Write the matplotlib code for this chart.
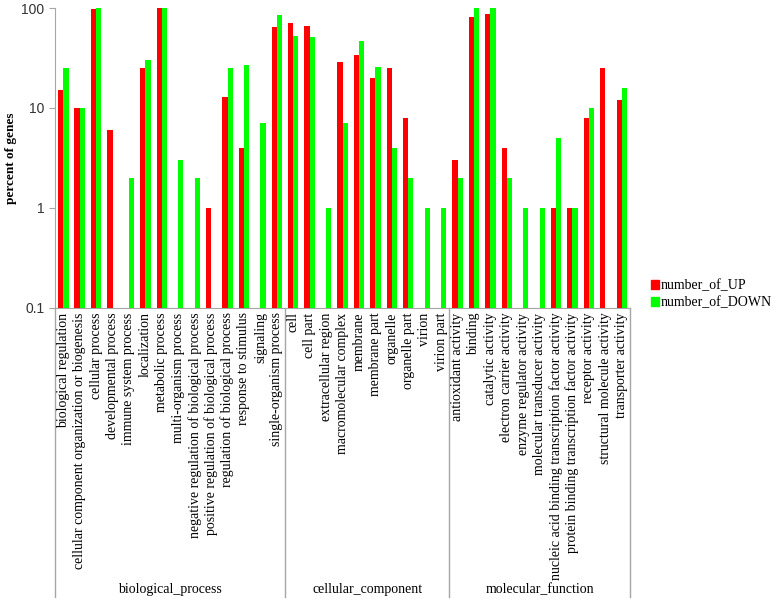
import numpy as np
import matplotlib
matplotlib.use("Agg")
import matplotlib.pyplot as plt
from matplotlib.patches import Patch
from matplotlib.transforms import blended_transform_factory

# GO terms, grouped by ontology
bp_terms = ["biological regulation", "cellular component organization or biogenesis",
            "cellular process", "developmental process", "immune system process",
            "localization", "metabolic process", "multi-organism process",
            "negative regulation of biological process", "positive regulation of biological process",
            "regulation of biological process", "response to stimulus", "signaling",
            "single-organism process"]
cc_terms = ["cell", "cell part", "extracellular region", "macromolecular complex", "membrane",
            "membrane part", "organelle", "organelle part", "virion", "virion part"]
mf_terms = ["antioxidant activity", "binding", "catalytic activity", "electron carrier activity",
            "enzyme regulator activity", "molecular transducer activity",
            "nucleic acid binding transcription factor activity",
            "protein binding transcription factor activity", "receptor activity",
            "structural molecule activity", "transporter activity"]
groups = ["biological_process", "cellular_component", "molecular_function"]

# percent of genes (nan = no bar)
nan = np.nan
up_pct = [15, 10, 97, 6, nan, 25, 100, nan, nan, 1, 13, 4, nan, 64,
          70, 66, nan, 29, 34, 20, 25, 8, nan, nan,
          3, 81, 87, 4, nan, nan, 1, 1, 8, 25, 12]
down_pct = [25, 10, 100, nan, 2, 30, 100, 3, 2, nan, 25, 27, 7, 86,
            52, 51, 1, 7, 47, 26, 4, 2, 1, 1,
            2, 100, 100, 2, 1, 1, 5, 1, 10, nan, 16]

RED = "#ff0000"
GREEN = "#00ff00"
LINE = "#a6a6a6"
SERIF = ["Liberation Serif", "DejaVu Serif"]

terms = bp_terms + cc_terms + mf_terms
sizes = [len(bp_terms), len(cc_terms), len(mf_terms)]
x = np.arange(len(terms))
w = 0.32

fig = plt.figure(figsize=(7.73, 6.02), dpi=100)
ax = fig.add_axes([0.0712, 0.4884, 0.7438, 0.4983])

ax.bar(x - w / 2, up_pct, width=w, color=RED, zorder=3)
ax.bar(x + w / 2, down_pct, width=w, color=GREEN, zorder=3)

ax.set_yscale("log")
ax.set_ylim(0.1, 100)
ax.set_xlim(-0.5, len(terms) - 0.5)
ax.set_yticks([0.1, 1, 10, 100])
ax.set_yticklabels(["0.1", "1", "10", "100"], fontsize=10,
                   family=["Liberation Sans", "DejaVu Sans"], color="#333333")
ax.minorticks_off()
ax.tick_params(axis="y", direction="out", length=4, color=LINE)
ax.set_xticks([])

for s in ["top", "right"]:
    ax.spines[s].set_visible(False)
ax.spines["left"].set_color(LINE)
ax.spines["bottom"].set_color(LINE)

ax.set_ylabel("percent of genes", fontsize=9.5, fontweight="bold", family=SERIF)
ax.yaxis.set_label_coords(-0.066, 0.5)

# category labels under the axis
trans = blended_transform_factory(ax.transData, ax.transAxes)
for xi, t in zip(x, terms):
    ax.text(xi, -0.015, t, rotation=90, ha="center", va="top", fontsize=10,
            family=SERIF, transform=trans)

# group separators and group names
bottom = -0.963
edges = np.concatenate([[0], np.cumsum(sizes)]) - 0.5
for e in edges:
    ax.plot([e, e], [0, bottom], color=LINE, lw=1, transform=trans, clip_on=False)
for g, a, b in zip(groups, edges[:-1], edges[1:]):
    ax.text((a + b) / 2, -0.94, g, ha="center", va="center", fontsize=10,
            family=SERIF, transform=trans)

handles = [Patch(color=RED, label="number_of_UP"), Patch(color=GREEN, label="number_of_DOWN")]
fig.legend(handles=handles, loc="center left", bbox_to_anchor=(0.842, 0.511),
           frameon=False, prop={"family": SERIF, "size": 10},
           handlelength=0.55, handleheight=0.55, handletextpad=0.15, labelspacing=0.3,
           borderaxespad=0, borderpad=0)

fig.savefig("out.png", dpi=100)
